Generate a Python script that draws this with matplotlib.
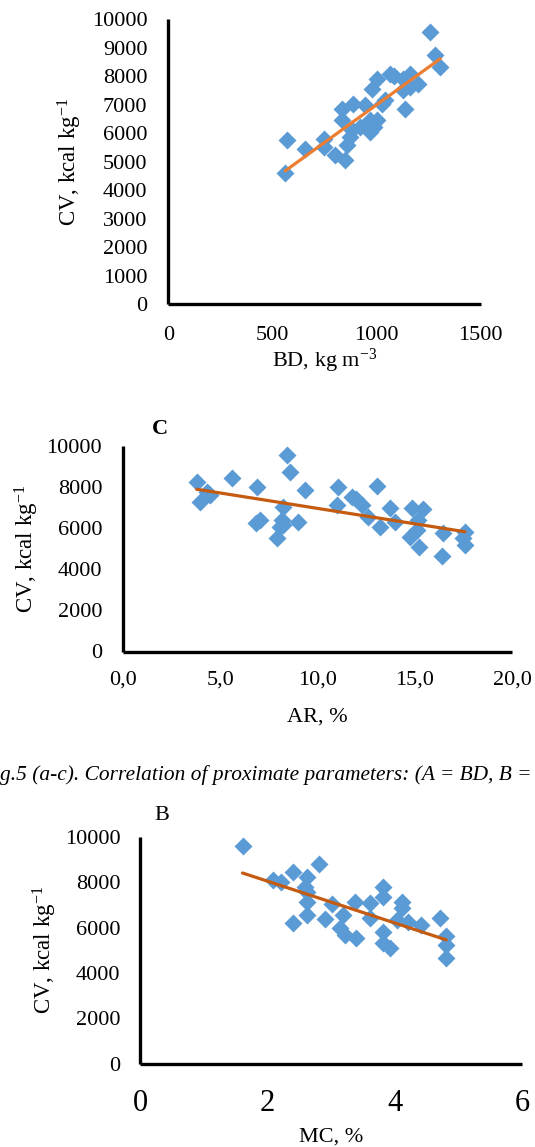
import numpy as np
import matplotlib
matplotlib.use("Agg")
import matplotlib.pyplot as plt

plt.rcParams["font.family"] = ["Liberation Serif", "DejaVu Serif"]
plt.rcParams["mathtext.fontset"] = "custom"
plt.rcParams["mathtext.rm"] = "Liberation Serif"
plt.rcParams["mathtext.it"] = "Liberation Serif:italic"

# Bulk density vs calorific value
bd = [562, 570, 658, 746, 746, 802, 850, 858, 834, 887, 834, 882, 946, 922,
      986, 1002, 1002, 978, 1026, 1042, 1066, 1130, 1162, 1202, 1130, 1138,
      1258, 1282, 1306, 970, 874, 970, 1082, 1162]
cv_bd = [4590, 5750, 5460, 5810, 5520, 5230, 5050, 5580, 6870, 7040, 6460,
         6100, 6980, 6220, 6220, 6460, 7920, 7570, 7040, 7160, 8100, 7920,
         8100, 7740, 7510, 6870, 9550, 8740, 8330, 6050, 5870, 6460, 8030, 7630]

# Ash content vs calorific value
ar = [3.79, 4.30, 4.47, 3.96, 5.59, 6.90, 7.04, 6.84, 8.42, 8.59, 9.36, 9.01,
      8.24, 8.16, 8.07, 7.90, 8.24, 11.07, 10.99, 11.76, 13.04, 12.00, 12.27,
      12.61, 13.21, 13.73, 13.98, 14.84, 15.44, 15.18, 14.76, 15.10, 15.23,
      16.47, 16.39, 17.58, 17.58, 17.50]
cv_ar = [8260, 7780, 7620, 7290, 8430, 8020, 6400, 6240, 9560, 8750, 7860,
         6320, 7050, 6400, 6040, 5510, 6160, 8020, 7130, 7530, 8050, 7400,
         7130, 6560, 6070, 6970, 6320, 6970, 6920, 6400, 5590, 5910, 5100,
         5780, 4650, 5830, 5180, 5510]

# Moisture content vs calorific value
mc = [1.61, 2.09, 2.22, 2.41, 2.62, 2.81, 2.59, 2.62, 2.62, 2.62, 2.41, 2.90,
      3.01, 3.19, 3.14, 3.22, 3.38, 3.81, 3.82, 3.61, 4.11, 4.11, 3.61, 4.03,
      4.21, 4.42, 4.71, 4.81, 4.81, 4.81, 3.82, 3.82, 3.92, 3.40]
cv_mc = [9590, 8100, 8020, 8460, 8240, 8790, 7800, 7580, 7140, 6560, 6190,
         6370, 7040, 6560, 5970, 5670, 7140, 7780, 7360, 7070, 7140, 6850,
         6410, 6340, 6260, 6120, 6450, 5630, 5230, 4650, 5820, 5310, 5090, 5530]

bd_ticks = [0, 500, 1000, 1500]
ar_ticks = [0, 5, 10, 15, 20]
ar_ticklabels = ["0,0", "5,0", "10,0", "15,0", "20,0"]
mc_ticks = [0, 2, 4, 6]
cv_ticks_a = list(range(0, 10001, 1000))
cv_ticks_bc = list(range(0, 10001, 2000))

W, H = 535, 1147
fig = plt.figure(figsize=(W / 100, H / 100), dpi=100)

MARKER = "#5B9BD5"
YLABEL = "CV, kcal kg$^{\\mathrm{-1}}$"


def make_axes(left, top, right, bottom):
    return fig.add_axes([left / W, 1 - bottom / H, (right - left) / W, (bottom - top) / H])


def style(ax, xlim, ylim):
    ax.set_xlim(*xlim)
    ax.set_ylim(*ylim)
    for s in ("top", "right"):
        ax.spines[s].set_visible(False)
    for s in ("left", "bottom"):
        ax.spines[s].set_linewidth(2.4)
        ax.spines[s].set_capstyle("butt")
    ax.set_facecolor("none")


def scatter_fit(ax, x, y, line_color):
    ax.plot(x, y, "D", color=MARKER, ms=9.2, mec="none", clip_on=False, zorder=3)
    k, b = np.polyfit(x, y, 1)
    xs = np.array([min(x), max(x)])
    ax.plot(xs, k * xs + b, color=line_color, lw=2.3, solid_capstyle="round", zorder=4)


# Panel A: BD
axA = make_axes(168.3, 19.5, 480.5, 304)
style(axA, (0, 1500), (0, 10000))
scatter_fit(axA, bd, cv_bd, "#ED7D31")
axA.set_xticks(bd_ticks)
axA.set_yticks(cv_ticks_a)
axA.tick_params(axis="both", length=0, labelsize=16)
axA.tick_params(axis="y", pad=15)
axA.tick_params(axis="x", pad=16)
axA.set_xlabel("BD, kg m$^{\\mathrm{-3}}$", fontsize=16, labelpad=1)
axA.set_ylabel(YLABEL, fontsize=16.5, labelpad=6)

# Panel C: AR
axC = make_axes(123, 446, 512, 651.5)
style(axC, (0, 20), (0, 10000))
scatter_fit(axC, ar, cv_ar, "#C55A11")
axC.set_xticks(ar_ticks)
axC.set_xticklabels(ar_ticklabels)
axC.set_yticks(cv_ticks_bc)
axC.tick_params(axis="both", length=0, labelsize=16)
axC.tick_params(axis="y", pad=15)
axC.tick_params(axis="x", pad=14)
axC.set_xlabel("AR, %", fontsize=16, labelpad=13)
axC.set_ylabel(YLABEL, fontsize=16.5, labelpad=4)
fig.text(160.4 / W, 1 - 429 / H, "C", fontsize=16, fontweight="bold",
         ha="center", va="center")

# Caption between panels
fig.text(-18.5 / W, 1 - 775.5 / H,
         "Fig.5 (a-c). Correlation of proximate parameters: (A = BD, B = MC, C = AR)",
         fontsize=15.4, style="italic", ha="left", va="center")

# Panel B: MC
axB = make_axes(140, 837, 522, 1063.8)
style(axB, (0, 6), (0, 10000))
scatter_fit(axB, mc, cv_mc, "#C55A11")
axB.set_xticks(mc_ticks)
axB.set_yticks(cv_ticks_bc)
axB.tick_params(axis="y", length=0, labelsize=16, pad=14)
axB.tick_params(axis="x", length=0, labelsize=22, pad=18)
axB.set_xlabel("MC, %", fontsize=16, labelpad=7)
axB.set_ylabel(YLABEL, fontsize=16.5, labelpad=4)
fig.text(162 / W, 1 - 815 / H, "B", fontsize=16, ha="center", va="center")

fig.savefig("out.png", dpi=100, facecolor="white")
